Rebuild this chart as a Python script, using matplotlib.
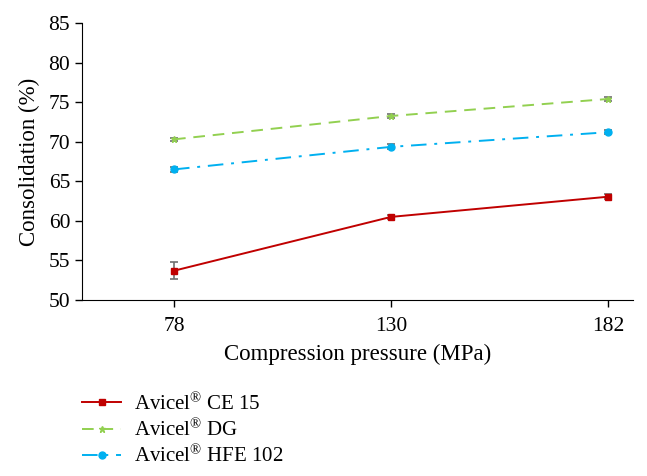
import matplotlib
matplotlib.use("Agg")
import matplotlib.pyplot as plt

plt.rcParams['font.family'] = ['Liberation Serif', 'DejaVu Serif']
plt.rcParams['mathtext.fontset'] = 'custom'
plt.rcParams['mathtext.rm'] = 'Liberation Serif'
plt.rcParams['mathtext.it'] = 'Liberation Serif:italic'
plt.rcParams['mathtext.bf'] = 'Liberation Serif:bold'

pressures = ['78', '130', '182']
series_names = ['Avicel$^{\\mathrm{®}}$ CE 15', 'Avicel$^{\\mathrm{®}}$ DG', 'Avicel$^{\\mathrm{®}}$ HFE 102']
ce15 = [53.7, 60.5, 63.05]
ce15_err = [1.05, 0.25, 0.35]
dg = [70.3, 73.25, 75.4]
dg_err = [0.2, 0.2, 0.2]
hfe = [66.5, 69.35, 71.2]
hfe_err = [0.3, 0.3, 0.25]

colors = ['#C00000', '#92D050', '#00B0F0']
styles = ['-', (0, (6, 4)), (0, (8, 4, 1.5, 4))]
markers = ['s', '*', 'o']

fig = plt.figure(figsize=(6.47, 4.76), dpi=100)
ax = fig.add_axes([82/647, 1-300/476, (633-82)/647, (300-23)/476])

x = list(range(len(pressures)))
handles = []
for vals, errs, c, ls, m, name in zip([ce15, dg, hfe], [ce15_err, dg_err, hfe_err],
                                       colors, styles, markers, series_names):
    ax.errorbar(x, vals, yerr=errs, fmt='none', ecolor='#707070', elinewidth=1.2,
                capsize=3, capthick=1.2, zorder=2)
    h, = ax.plot(x, vals, color=c, linestyle=ls, linewidth=1.4, marker=m,
                 markersize=5, zorder=3, label=name)
    handles.append(h)

ax.set_xlim(-0.424, 2.115)
ax.set_ylim(50, 85)
ax.set_yticks(range(50, 86, 5))
ax.set_xticks(x)
ax.set_xticklabels(pressures)
ax.spines['top'].set_visible(False)
ax.spines['right'].set_visible(False)
ax.tick_params(axis='both', labelsize=15.5, direction='out', length=5, width=1)
ax.tick_params(axis='x', pad=7)
ax.set_ylabel('Consolidation (%)', fontsize=16.5, labelpad=6)
ax.set_xlabel('Compression pressure (MPa)', fontsize=16.5, labelpad=6)

fig.legend(handles=handles, loc='upper left', bbox_to_anchor=(63/647, 1-374/476),
           frameon=False, fontsize=15, handlelength=1.9, labelspacing=0.2,
           handletextpad=0.6)

fig.savefig('out.png', dpi=100)
